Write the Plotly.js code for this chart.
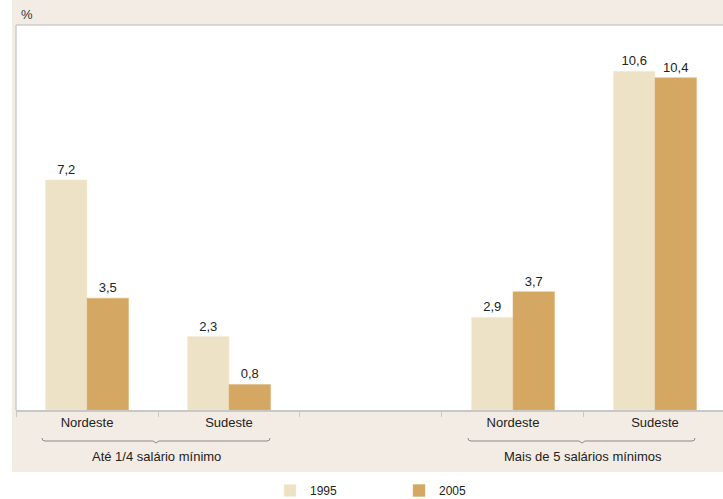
<!DOCTYPE html>
<html>
<head>
<meta charset="utf-8">
<script src="https://cdn.plot.ly/plotly-3.0.1.min.js"></script>
<style>html,body{margin:0;padding:0;background:#fff;}</style>
</head>
<body>
<div id="chart" style="width:723px;height:499px;"></div>
<script>
// ---- data ----
var categoryKeys = ['low_NE', 'low_SE', 'gap', 'high_NE', 'high_SE'];
var categoryLabels = ['Nordeste', 'Sudeste', '', 'Nordeste', 'Sudeste'];
var barKeys = ['low_NE', 'low_SE', 'high_NE', 'high_SE'];
var values1995 = [7.2, 2.3, 2.9, 10.6];
var values2005 = [3.5, 0.8, 3.7, 10.4];
var seriesNames = ['1995', '2005'];
var groupLabels = ['Até 1/4 salário mínimo', 'Mais de 5 salários mínimos'];

// ---- layout helpers (pixel -> paper) ----
var W = 723, H = 499, mL = 16, mR = 0, mT = 25, mB = 89;
var pw = W - mL - mR, ph = H - mT - mB;
function xp(px) { return (px - mL) / pw; }
function yp(py) { return (H - mB - py) / ph; }

var FONT = 'Liberation Sans, Arial, sans-serif';
var col1995 = '#ede2c6', col2005 = '#d4a862';

var traces = [
  {type: 'bar', name: seriesNames[0], x: barKeys, y: values1995,
   marker: {color: col1995, line: {color: '#f4ecd8', width: 0.5}},
   texttemplate: '%{y:.1f}', textposition: 'outside', cliponaxis: false,
   textfont: {family: FONT, size: 13, color: '#222'}, hoverinfo: 'skip'},
  {type: 'bar', name: seriesNames[1], x: barKeys, y: values2005,
   marker: {color: col2005, line: {color: '#dcb578', width: 0.5}},
   texttemplate: '%{y:.1f}', textposition: 'outside', cliponaxis: false,
   textfont: {family: FONT, size: 13, color: '#222'}, hoverinfo: 'skip'}
];

function bracket(x0, x1, xc, y) {
  return 'M' + xp(x0) + ',' + yp(y - 3) +
    ' Q' + xp(x0) + ',' + yp(y) + ' ' + xp(x0 + 3) + ',' + yp(y) +
    ' L' + xp(xc - 3) + ',' + yp(y) +
    ' L' + xp(xc) + ',' + yp(y + 2) +
    ' L' + xp(xc + 3) + ',' + yp(y) +
    ' L' + xp(x1 - 3) + ',' + yp(y) +
    ' Q' + xp(x1) + ',' + yp(y) + ' ' + xp(x1) + ',' + yp(y - 3);
}

var shapes = [
  {type: 'rect', xref: 'paper', yref: 'paper', x0: xp(12), x1: 1, y0: yp(472), y1: yp(0),
   fillcolor: '#f2ece4', line: {width: 0}, layer: 'below'},
  {type: 'rect', xref: 'paper', yref: 'paper', x0: 0, x1: 1, y0: 0, y1: 1,
   fillcolor: '#ffffff', line: {width: 0}, layer: 'below'},
  {type: 'line', xref: 'paper', yref: 'paper', x0: 0, x1: 1, y0: 1, y1: 1,
   line: {color: '#cccccc', width: 1.5}},
  {type: 'line', xref: 'paper', yref: 'paper', x0: 0, x1: 0, y0: 0, y1: 1,
   line: {color: '#cccccc', width: 1.5}},
  {type: 'path', xref: 'paper', yref: 'paper', path: bracket(42, 270, 156, 441),
   line: {color: '#8a8a8a', width: 1}},
  {type: 'path', xref: 'paper', yref: 'paper', path: bracket(468, 695, 582, 441),
   line: {color: '#8a8a8a', width: 1}}
];

var annotations = [
  {xref: 'paper', yref: 'paper', x: xp(19), y: yp(15), xanchor: 'left', yanchor: 'middle',
   text: '%', showarrow: false, font: {family: FONT, size: 13, color: '#333'}},
  {xref: 'paper', yref: 'paper', x: xp(156), y: yp(456), xanchor: 'center', yanchor: 'middle',
   text: groupLabels[0], showarrow: false, font: {family: FONT, size: 13, color: '#222'}},
  {xref: 'paper', yref: 'paper', x: xp(583), y: yp(456), xanchor: 'center', yanchor: 'middle',
   text: groupLabels[1], showarrow: false, font: {family: FONT, size: 13, color: '#222'}}
];

var layout = {
  width: W, height: H,
  margin: {l: mL, r: mR, t: mT, b: mB, pad: 0, autoexpand: false},
  paper_bgcolor: '#ffffff', plot_bgcolor: '#ffffff',
  separators: ',.',
  barmode: 'group', bargap: 0.415, bargroupgap: 0,
  font: {family: FONT, size: 13, color: '#222'},
  xaxis: {
    type: 'category', categoryorder: 'array', categoryarray: categoryKeys,
    tickmode: 'array', tickvals: categoryKeys, ticktext: categoryLabels,
    range: [-0.5, 4.479], tickson: 'boundaries', ticks: 'outside', ticklen: 5,
    tickcolor: '#c8c8c8', tickwidth: 1, showline: true, linecolor: '#c8c8c8', linewidth: 1.5,
    showgrid: false, zeroline: false, fixedrange: true, automargin: false,
    tickfont: {family: FONT, size: 13, color: '#222'}
  },
  yaxis: {range: [0, 12.05], showticklabels: false, showgrid: false, zeroline: false,
          showline: false, ticks: '', fixedrange: true, automargin: false},
  showlegend: true,
  legend: {orientation: 'h', x: xp(270), y: yp(476), xanchor: 'left', yanchor: 'top',
           font: {family: FONT, size: 12, color: '#222'}, bgcolor: 'rgba(0,0,0,0)',
           entrywidth: 84, traceorder: 'normal'},
  shapes: shapes,
  annotations: annotations
};

Plotly.newPlot('chart', traces, layout, {displayModeBar: false, staticPlot: true});
</script>
</body>
</html>
